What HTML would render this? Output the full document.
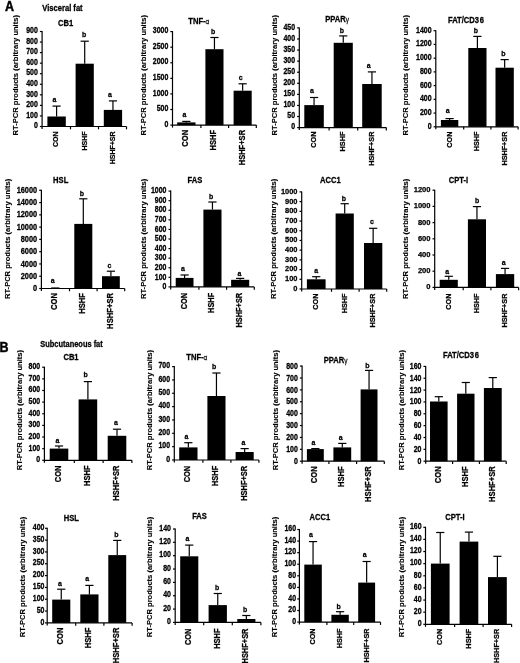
<!DOCTYPE html>
<html><head><meta charset="utf-8"><style>
html,body{margin:0;padding:0;background:#fff;}
svg{display:block;will-change:transform;}
line{stroke:#000;stroke-width:1.2;}
rect{fill:#000;}
text{font-family:"Liberation Sans", sans-serif;font-weight:bold;fill:#000;stroke:#000;stroke-width:0.25;}
.t{font-size:7.0px;text-anchor:end;}
.x{font-size:7.0px;text-anchor:end;}
.ti{font-size:7.6px;text-anchor:middle;}
.yl{font-size:7.55px;text-anchor:middle;stroke-width:0.12;}
.l{font-size:7.0px;text-anchor:middle;}
.st{text-anchor:start;}
.gk{font-weight:normal;font-size:6.5px;fill:#333;}
.big{font-size:12.5px;stroke:#000;stroke-width:0.4;}
.sec{font-size:7.6px;}
.s2{font-size:7.45px;}
</style></head><body>
<svg width="520" height="663" viewBox="0 0 520 663">
<text class="big" transform="translate(5,10.8) scale(1,1.15)">A</text>
<text class="sec" transform="translate(42.3,10.7) scale(1,1.2)">Visceral fat</text>
<text class="big" transform="translate(-0.6,351.9) scale(1,1.15)">B</text>
<text class="sec s2" transform="translate(40.3,347) scale(1,1.2)">Subcutaneous fat</text>
<line x1="42.1" y1="31" x2="42.1" y2="129"/>
<line x1="39.9" y1="126.5" x2="42.1" y2="126.5"/>
<text class="t" style="font-size:7px" transform="translate(37.9,128.2) scale(1,1.2)">0</text>
<line x1="39.9" y1="115.94" x2="42.1" y2="115.94"/>
<text class="t" style="font-size:7px" transform="translate(37.9,117.64) scale(1,1.2)">100</text>
<line x1="39.9" y1="105.39" x2="42.1" y2="105.39"/>
<text class="t" style="font-size:7px" transform="translate(37.9,107.09) scale(1,1.2)">200</text>
<line x1="39.9" y1="94.83" x2="42.1" y2="94.83"/>
<text class="t" style="font-size:7px" transform="translate(37.9,96.53) scale(1,1.2)">300</text>
<line x1="39.9" y1="84.28" x2="42.1" y2="84.28"/>
<text class="t" style="font-size:7px" transform="translate(37.9,85.98) scale(1,1.2)">400</text>
<line x1="39.9" y1="73.72" x2="42.1" y2="73.72"/>
<text class="t" style="font-size:7px" transform="translate(37.9,75.42) scale(1,1.2)">500</text>
<line x1="39.9" y1="63.17" x2="42.1" y2="63.17"/>
<text class="t" style="font-size:7px" transform="translate(37.9,64.87) scale(1,1.2)">600</text>
<line x1="39.9" y1="52.61" x2="42.1" y2="52.61"/>
<text class="t" style="font-size:7px" transform="translate(37.9,54.31) scale(1,1.2)">700</text>
<line x1="39.9" y1="42.06" x2="42.1" y2="42.06"/>
<text class="t" style="font-size:7px" transform="translate(37.9,43.76) scale(1,1.2)">800</text>
<line x1="39.9" y1="31.5" x2="42.1" y2="31.5"/>
<text class="t" style="font-size:7px" transform="translate(37.9,33.2) scale(1,1.2)">900</text>
<line x1="42.1" y1="126.5" x2="126.5" y2="126.5"/>
<line x1="70.5" y1="126.5" x2="70.5" y2="129.3"/>
<line x1="98.5" y1="126.5" x2="98.5" y2="129.3"/>
<line x1="126.5" y1="126.5" x2="126.5" y2="129.3"/>
<rect x="47.4" y="116.5" width="18.4" height="10"/>
<line x1="56.6" y1="116.5" x2="56.6" y2="106.1"/>
<line x1="52.5" y1="106.1" x2="60.7" y2="106.1"/>
<text class="l" transform="translate(54.4,101.5) scale(1,1.1)">a</text>
<text class="x" style="font-size:7px" transform="translate(58.41,131.5) rotate(-90) scale(1,1.1)">CON</text>
<rect x="75.6" y="63.7" width="18.2" height="62.8"/>
<line x1="84.7" y1="63.7" x2="84.7" y2="41.2"/>
<line x1="80.6" y1="41.2" x2="88.8" y2="41.2"/>
<text class="l" transform="translate(84.1,37.4) scale(1,1.1)">b</text>
<text class="x" style="font-size:7px" transform="translate(86.51,131.5) rotate(-90) scale(1,1.1)">HSHF</text>
<rect x="103.8" y="109.9" width="18.3" height="16.6"/>
<line x1="112.95" y1="109.9" x2="112.95" y2="100.9"/>
<line x1="108.85" y1="100.9" x2="117.05" y2="100.9"/>
<text class="l" transform="translate(110,96.9) scale(1,1.1)">a</text>
<text class="x" style="font-size:7px" transform="translate(114.76,131.5) rotate(-90) scale(1,1.1)">HSHF+SR</text>
<text class="ti" transform="translate(65.7,25.5) scale(1,1.2)">CB1</text>
<text class="yl" transform="translate(17.6,75.25) rotate(-90) scale(1,1)">RT-PCR products (arbitrary units)</text>
<line x1="172.5" y1="31.1" x2="172.5" y2="127.6"/>
<line x1="170.3" y1="125.1" x2="172.5" y2="125.1"/>
<text class="t" style="font-size:7px" transform="translate(168.3,126.8) scale(1,1.2)">0</text>
<line x1="170.3" y1="109.52" x2="172.5" y2="109.52"/>
<text class="t" style="font-size:7px" transform="translate(168.3,111.22) scale(1,1.2)">500</text>
<line x1="170.3" y1="93.93" x2="172.5" y2="93.93"/>
<text class="t" style="font-size:7px" transform="translate(168.3,95.63) scale(1,1.2)">1000</text>
<line x1="170.3" y1="78.35" x2="172.5" y2="78.35"/>
<text class="t" style="font-size:7px" transform="translate(168.3,80.05) scale(1,1.2)">1500</text>
<line x1="170.3" y1="62.77" x2="172.5" y2="62.77"/>
<text class="t" style="font-size:7px" transform="translate(168.3,64.47) scale(1,1.2)">2000</text>
<line x1="170.3" y1="47.18" x2="172.5" y2="47.18"/>
<text class="t" style="font-size:7px" transform="translate(168.3,48.88) scale(1,1.2)">2500</text>
<line x1="170.3" y1="31.6" x2="172.5" y2="31.6"/>
<text class="t" style="font-size:7px" transform="translate(168.3,33.3) scale(1,1.2)">3000</text>
<line x1="172.5" y1="125.1" x2="256.3" y2="125.1"/>
<line x1="200.9" y1="125.1" x2="200.9" y2="127.9"/>
<line x1="228.6" y1="125.1" x2="228.6" y2="127.9"/>
<line x1="256.3" y1="125.1" x2="256.3" y2="127.9"/>
<rect x="177.2" y="122.4" width="18.3" height="2.7"/>
<line x1="186.35" y1="122.4" x2="186.35" y2="121.4"/>
<line x1="182.25" y1="121.4" x2="190.45" y2="121.4"/>
<text class="l" transform="translate(184.5,116.7) scale(1,1.1)">a</text>
<text class="x" style="font-size:7.55px" transform="translate(188.38,129.9) rotate(-90) scale(1,1.1)">CON</text>
<rect x="205.4" y="49.2" width="18.1" height="75.9"/>
<line x1="214.45" y1="49.2" x2="214.45" y2="37.5"/>
<line x1="210.35" y1="37.5" x2="218.55" y2="37.5"/>
<text class="l" transform="translate(213.2,34) scale(1,1.1)">b</text>
<text class="x" style="font-size:7.55px" transform="translate(216.48,129.9) rotate(-90) scale(1,1.1)">HSHF</text>
<rect x="233.6" y="90.7" width="18.1" height="34.4"/>
<line x1="242.65" y1="90.7" x2="242.65" y2="83.8"/>
<line x1="238.55" y1="83.8" x2="246.75" y2="83.8"/>
<text class="l" transform="translate(240.8,80.1) scale(1,1.1)">c</text>
<text class="x" style="font-size:7.55px" transform="translate(244.68,129.9) rotate(-90) scale(1,1.1)">HSHF+SR</text>
<text class="ti st" transform="translate(188.3,23.5) scale(1,1.2)">TNF-<tspan class="gk">α</tspan></text>
<text class="yl" transform="translate(145.5,75.25) rotate(-90) scale(1,1)">RT-PCR products (arbitrary units)</text>
<line x1="299.3" y1="27.4" x2="299.3" y2="130.1"/>
<line x1="297.1" y1="127.6" x2="299.3" y2="127.6"/>
<text class="t" style="font-size:7px" transform="translate(295.1,129.3) scale(1,1.2)">0</text>
<line x1="297.1" y1="116.52" x2="299.3" y2="116.52"/>
<text class="t" style="font-size:7px" transform="translate(295.1,118.22) scale(1,1.2)">50</text>
<line x1="297.1" y1="105.44" x2="299.3" y2="105.44"/>
<text class="t" style="font-size:7px" transform="translate(295.1,107.14) scale(1,1.2)">100</text>
<line x1="297.1" y1="94.37" x2="299.3" y2="94.37"/>
<text class="t" style="font-size:7px" transform="translate(295.1,96.07) scale(1,1.2)">150</text>
<line x1="297.1" y1="83.29" x2="299.3" y2="83.29"/>
<text class="t" style="font-size:7px" transform="translate(295.1,84.99) scale(1,1.2)">200</text>
<line x1="297.1" y1="72.21" x2="299.3" y2="72.21"/>
<text class="t" style="font-size:7px" transform="translate(295.1,73.91) scale(1,1.2)">250</text>
<line x1="297.1" y1="61.13" x2="299.3" y2="61.13"/>
<text class="t" style="font-size:7px" transform="translate(295.1,62.83) scale(1,1.2)">300</text>
<line x1="297.1" y1="50.06" x2="299.3" y2="50.06"/>
<text class="t" style="font-size:7px" transform="translate(295.1,51.76) scale(1,1.2)">350</text>
<line x1="297.1" y1="38.98" x2="299.3" y2="38.98"/>
<text class="t" style="font-size:7px" transform="translate(295.1,40.68) scale(1,1.2)">400</text>
<line x1="297.1" y1="27.9" x2="299.3" y2="27.9"/>
<text class="t" style="font-size:7px" transform="translate(295.1,29.6) scale(1,1.2)">450</text>
<line x1="299.3" y1="127.6" x2="386.3" y2="127.6"/>
<line x1="329.1" y1="127.6" x2="329.1" y2="130.4"/>
<line x1="357.7" y1="127.6" x2="357.7" y2="130.4"/>
<line x1="386.3" y1="127.6" x2="386.3" y2="130.4"/>
<rect x="304.3" y="105.1" width="19.5" height="22.5"/>
<line x1="314.05" y1="105.1" x2="314.05" y2="97.5"/>
<line x1="309.95" y1="97.5" x2="318.15" y2="97.5"/>
<text class="l" transform="translate(312,93.3) scale(1,1.1)">a</text>
<text class="x" style="font-size:7.3px" transform="translate(315.98,131.6) rotate(-90) scale(1,1.1)">CON</text>
<rect x="333.7" y="42.8" width="19.1" height="84.8"/>
<line x1="343.25" y1="42.8" x2="343.25" y2="35.9"/>
<line x1="339.15" y1="35.9" x2="347.35" y2="35.9"/>
<text class="l" transform="translate(341.8,33.3) scale(1,1.1)">b</text>
<text class="x" style="font-size:7.3px" transform="translate(345.18,131.6) rotate(-90) scale(1,1.1)">HSHF</text>
<rect x="362.2" y="84" width="19.5" height="43.6"/>
<line x1="371.95" y1="84" x2="371.95" y2="71.9"/>
<line x1="367.85" y1="71.9" x2="376.05" y2="71.9"/>
<text class="l" transform="translate(368.7,67.6) scale(1,1.1)">a</text>
<text class="x" style="font-size:7.3px" transform="translate(373.88,131.6) rotate(-90) scale(1,1.1)">HSHF+SR</text>
<text class="ti st" transform="translate(325.2,22.3) scale(1,1.2)">PPAR<tspan class="gk">γ</tspan></text>
<text class="yl" transform="translate(276.6,75.25) rotate(-90) scale(1,1)">RT-PCR products (arbitrary units)</text>
<line x1="435.8" y1="30.2" x2="435.8" y2="129.3"/>
<line x1="433.6" y1="126.8" x2="435.8" y2="126.8"/>
<text class="t" style="font-size:7px" transform="translate(431.6,128.8) scale(1,1.2)">0</text>
<line x1="433.6" y1="113.07" x2="435.8" y2="113.07"/>
<text class="t" style="font-size:7px" transform="translate(431.6,115.07) scale(1,1.2)">200</text>
<line x1="433.6" y1="99.34" x2="435.8" y2="99.34"/>
<text class="t" style="font-size:7px" transform="translate(431.6,101.34) scale(1,1.2)">400</text>
<line x1="433.6" y1="85.61" x2="435.8" y2="85.61"/>
<text class="t" style="font-size:7px" transform="translate(431.6,87.61) scale(1,1.2)">600</text>
<line x1="433.6" y1="71.89" x2="435.8" y2="71.89"/>
<text class="t" style="font-size:7px" transform="translate(431.6,73.89) scale(1,1.2)">800</text>
<line x1="433.6" y1="58.16" x2="435.8" y2="58.16"/>
<text class="t" style="font-size:7px" transform="translate(431.6,60.16) scale(1,1.2)">1000</text>
<line x1="433.6" y1="44.43" x2="435.8" y2="44.43"/>
<text class="t" style="font-size:7px" transform="translate(431.6,46.43) scale(1,1.2)">1200</text>
<line x1="433.6" y1="30.7" x2="435.8" y2="30.7"/>
<text class="t" style="font-size:7px" transform="translate(431.6,32.7) scale(1,1.2)">1400</text>
<line x1="435.8" y1="126.8" x2="518.1" y2="126.8"/>
<line x1="463.7" y1="126.8" x2="463.7" y2="129.6"/>
<line x1="490.9" y1="126.8" x2="490.9" y2="129.6"/>
<line x1="518.1" y1="126.8" x2="518.1" y2="129.6"/>
<rect x="440.9" y="120" width="17.4" height="6.8"/>
<line x1="449.6" y1="120" x2="449.6" y2="118.6"/>
<line x1="445.5" y1="118.6" x2="453.7" y2="118.6"/>
<text class="l" transform="translate(447.6,112.8) scale(1,1.1)">a</text>
<text class="x" style="font-size:7.25px" transform="translate(451.51,131.6) rotate(-90) scale(1,1.1)">CON</text>
<rect x="468.3" y="48" width="18.2" height="78.8"/>
<line x1="477.4" y1="48" x2="477.4" y2="36.4"/>
<line x1="473.3" y1="36.4" x2="481.5" y2="36.4"/>
<text class="l" transform="translate(475.8,33.3) scale(1,1.1)">b</text>
<text class="x" style="font-size:7.25px" transform="translate(479.31,131.6) rotate(-90) scale(1,1.1)">HSHF</text>
<rect x="495.5" y="67.7" width="18.3" height="59.1"/>
<line x1="504.65" y1="67.7" x2="504.65" y2="59.6"/>
<line x1="500.55" y1="59.6" x2="508.75" y2="59.6"/>
<text class="l" transform="translate(503.5,55.6) scale(1,1.1)">b</text>
<text class="x" style="font-size:7.25px" transform="translate(506.56,131.6) rotate(-90) scale(1,1.1)">HSHF+SR</text>
<text class="ti" transform="translate(466,22.8) scale(1,1.2)">FAT/CD3<tspan dx="0.9">6</tspan></text>
<text class="yl" transform="translate(407.5,75.25) rotate(-90) scale(1,1)">RT-PCR products (arbitrary units)</text>
<line x1="41.4" y1="189.8" x2="41.4" y2="291"/>
<line x1="39.2" y1="288.5" x2="41.4" y2="288.5"/>
<text class="t" style="font-size:7.4px" transform="translate(37.2,291.1) scale(1,1.1)">0</text>
<line x1="39.2" y1="276.23" x2="41.4" y2="276.23"/>
<text class="t" style="font-size:7.4px" transform="translate(37.2,278.83) scale(1,1.1)">2000</text>
<line x1="39.2" y1="263.95" x2="41.4" y2="263.95"/>
<text class="t" style="font-size:7.4px" transform="translate(37.2,266.55) scale(1,1.1)">4000</text>
<line x1="39.2" y1="251.68" x2="41.4" y2="251.68"/>
<text class="t" style="font-size:7.4px" transform="translate(37.2,254.28) scale(1,1.1)">6000</text>
<line x1="39.2" y1="239.4" x2="41.4" y2="239.4"/>
<text class="t" style="font-size:7.4px" transform="translate(37.2,242) scale(1,1.1)">8000</text>
<line x1="39.2" y1="227.12" x2="41.4" y2="227.12"/>
<text class="t" style="font-size:7.4px" transform="translate(37.2,229.72) scale(1,1.1)">10000</text>
<line x1="39.2" y1="214.85" x2="41.4" y2="214.85"/>
<text class="t" style="font-size:7.4px" transform="translate(37.2,217.45) scale(1,1.1)">12000</text>
<line x1="39.2" y1="202.58" x2="41.4" y2="202.58"/>
<text class="t" style="font-size:7.4px" transform="translate(37.2,205.18) scale(1,1.1)">14000</text>
<line x1="39.2" y1="190.3" x2="41.4" y2="190.3"/>
<text class="t" style="font-size:7.4px" transform="translate(37.2,192.9) scale(1,1.1)">16000</text>
<line x1="41.4" y1="288.5" x2="124.7" y2="288.5"/>
<line x1="69.5" y1="288.5" x2="69.5" y2="291.3"/>
<line x1="97.1" y1="288.5" x2="97.1" y2="291.3"/>
<line x1="124.7" y1="288.5" x2="124.7" y2="291.3"/>
<rect x="46.1" y="288.3" width="18.4" height="0.2"/>
<line x1="51.2" y1="288" x2="59.4" y2="288"/>
<text class="l" transform="translate(52.8,282.5) scale(1,1.1)">a</text>
<text class="x" style="font-size:7.65px" transform="translate(57.37,293) rotate(-90) scale(1,1.1)">CON</text>
<rect x="74.3" y="223.9" width="18" height="64.6"/>
<line x1="83.3" y1="223.9" x2="83.3" y2="198.8"/>
<line x1="79.2" y1="198.8" x2="87.4" y2="198.8"/>
<text class="l" transform="translate(81.8,196) scale(1,1.1)">b</text>
<text class="x" style="font-size:7.65px" transform="translate(85.37,293) rotate(-90) scale(1,1.1)">HSHF</text>
<rect x="102" y="276.2" width="17.8" height="12.3"/>
<line x1="110.9" y1="276.2" x2="110.9" y2="271.2"/>
<line x1="106.8" y1="271.2" x2="115" y2="271.2"/>
<text class="l" transform="translate(109.4,268) scale(1,1.1)">c</text>
<text class="x" style="font-size:7.65px" transform="translate(112.97,293) rotate(-90) scale(1,1.1)">HSHF+SR</text>
<text class="ti" transform="translate(60.7,182.8) scale(1,1.2)">HSL</text>
<text class="yl" transform="translate(9.5,238.85) rotate(-90) scale(1,1)">RT-PCR products (arbitrary units)</text>
<line x1="170.7" y1="190.6" x2="170.7" y2="289.4"/>
<line x1="168.5" y1="286.9" x2="170.7" y2="286.9"/>
<text class="t" style="font-size:7px" transform="translate(166.5,289.1) scale(1,1.2)">0</text>
<line x1="168.5" y1="277.32" x2="170.7" y2="277.32"/>
<text class="t" style="font-size:7px" transform="translate(166.5,279.52) scale(1,1.2)">100</text>
<line x1="168.5" y1="267.74" x2="170.7" y2="267.74"/>
<text class="t" style="font-size:7px" transform="translate(166.5,269.94) scale(1,1.2)">200</text>
<line x1="168.5" y1="258.16" x2="170.7" y2="258.16"/>
<text class="t" style="font-size:7px" transform="translate(166.5,260.36) scale(1,1.2)">300</text>
<line x1="168.5" y1="248.58" x2="170.7" y2="248.58"/>
<text class="t" style="font-size:7px" transform="translate(166.5,250.78) scale(1,1.2)">400</text>
<line x1="168.5" y1="239" x2="170.7" y2="239"/>
<text class="t" style="font-size:7px" transform="translate(166.5,241.2) scale(1,1.2)">500</text>
<line x1="168.5" y1="229.42" x2="170.7" y2="229.42"/>
<text class="t" style="font-size:7px" transform="translate(166.5,231.62) scale(1,1.2)">600</text>
<line x1="168.5" y1="219.84" x2="170.7" y2="219.84"/>
<text class="t" style="font-size:7px" transform="translate(166.5,222.04) scale(1,1.2)">700</text>
<line x1="168.5" y1="210.26" x2="170.7" y2="210.26"/>
<text class="t" style="font-size:7px" transform="translate(166.5,212.46) scale(1,1.2)">800</text>
<line x1="168.5" y1="200.68" x2="170.7" y2="200.68"/>
<text class="t" style="font-size:7px" transform="translate(166.5,202.88) scale(1,1.2)">900</text>
<line x1="168.5" y1="191.1" x2="170.7" y2="191.1"/>
<text class="t" style="font-size:7px" transform="translate(166.5,193.3) scale(1,1.2)">1000</text>
<line x1="170.7" y1="286.9" x2="254.3" y2="286.9"/>
<line x1="198.9" y1="286.9" x2="198.9" y2="289.7"/>
<line x1="226.6" y1="286.9" x2="226.6" y2="289.7"/>
<line x1="254.3" y1="286.9" x2="254.3" y2="289.7"/>
<rect x="175.7" y="277.9" width="17.8" height="9"/>
<line x1="184.6" y1="277.9" x2="184.6" y2="275"/>
<line x1="180.5" y1="275" x2="188.7" y2="275"/>
<text class="l" transform="translate(183,271.3) scale(1,1.1)">a</text>
<text class="x" style="font-size:7.4px" transform="translate(186.57,292.8) rotate(-90) scale(1,1.1)">CON</text>
<rect x="203.4" y="209.6" width="18.1" height="77.3"/>
<line x1="212.45" y1="209.6" x2="212.45" y2="202"/>
<line x1="208.35" y1="202" x2="216.55" y2="202"/>
<text class="l" transform="translate(211.2,198.7) scale(1,1.1)">b</text>
<text class="x" style="font-size:7.4px" transform="translate(214.42,292.8) rotate(-90) scale(1,1.1)">HSHF</text>
<rect x="231.1" y="279.8" width="18.1" height="7.1"/>
<line x1="240.15" y1="279.8" x2="240.15" y2="278.4"/>
<line x1="236.05" y1="278.4" x2="244.25" y2="278.4"/>
<text class="l" transform="translate(239.5,275.6) scale(1,1.1)">a</text>
<text class="x" style="font-size:7.4px" transform="translate(242.12,292.8) rotate(-90) scale(1,1.1)">HSHF+SR</text>
<text class="ti" transform="translate(194.85,182.8) scale(1,1.2)">FAS</text>
<text class="yl" transform="translate(146,238.85) rotate(-90) scale(1,1)">RT-PCR products (arbitrary units)</text>
<line x1="301.7" y1="191.4" x2="301.7" y2="291.5"/>
<line x1="299.5" y1="289" x2="301.7" y2="289"/>
<text class="t" style="font-size:7.45px" transform="translate(297.5,290.9) scale(1,1.05)">0</text>
<line x1="299.5" y1="279.29" x2="301.7" y2="279.29"/>
<text class="t" style="font-size:7.45px" transform="translate(297.5,281.19) scale(1,1.05)">100</text>
<line x1="299.5" y1="269.58" x2="301.7" y2="269.58"/>
<text class="t" style="font-size:7.45px" transform="translate(297.5,271.48) scale(1,1.05)">200</text>
<line x1="299.5" y1="259.87" x2="301.7" y2="259.87"/>
<text class="t" style="font-size:7.45px" transform="translate(297.5,261.77) scale(1,1.05)">300</text>
<line x1="299.5" y1="250.16" x2="301.7" y2="250.16"/>
<text class="t" style="font-size:7.45px" transform="translate(297.5,252.06) scale(1,1.05)">400</text>
<line x1="299.5" y1="240.45" x2="301.7" y2="240.45"/>
<text class="t" style="font-size:7.45px" transform="translate(297.5,242.35) scale(1,1.05)">500</text>
<line x1="299.5" y1="230.74" x2="301.7" y2="230.74"/>
<text class="t" style="font-size:7.45px" transform="translate(297.5,232.64) scale(1,1.05)">600</text>
<line x1="299.5" y1="221.03" x2="301.7" y2="221.03"/>
<text class="t" style="font-size:7.45px" transform="translate(297.5,222.93) scale(1,1.05)">700</text>
<line x1="299.5" y1="211.32" x2="301.7" y2="211.32"/>
<text class="t" style="font-size:7.45px" transform="translate(297.5,213.22) scale(1,1.05)">800</text>
<line x1="299.5" y1="201.61" x2="301.7" y2="201.61"/>
<text class="t" style="font-size:7.45px" transform="translate(297.5,203.51) scale(1,1.05)">900</text>
<line x1="299.5" y1="191.9" x2="301.7" y2="191.9"/>
<text class="t" style="font-size:7.45px" transform="translate(297.5,193.8) scale(1,1.05)">1000</text>
<line x1="301.7" y1="289" x2="386.7" y2="289"/>
<line x1="331.5" y1="289" x2="331.5" y2="291.8"/>
<line x1="359.1" y1="289" x2="359.1" y2="291.8"/>
<line x1="386.7" y1="289" x2="386.7" y2="291.8"/>
<rect x="306.9" y="279.3" width="18.7" height="9.7"/>
<line x1="316.25" y1="279.3" x2="316.25" y2="276.7"/>
<line x1="312.15" y1="276.7" x2="320.35" y2="276.7"/>
<text class="l" transform="translate(316.1,272.9) scale(1,1.1)">a</text>
<text class="x" style="font-size:7.25px" transform="translate(318.16,293.6) rotate(-90) scale(1,1.1)">CON</text>
<rect x="335.6" y="213.5" width="18.2" height="75.5"/>
<line x1="344.7" y1="213.5" x2="344.7" y2="203.7"/>
<line x1="340.6" y1="203.7" x2="348.8" y2="203.7"/>
<text class="l" transform="translate(343.8,200.9) scale(1,1.1)">b</text>
<text class="x" style="font-size:7.25px" transform="translate(346.61,293.6) rotate(-90) scale(1,1.1)">HSHF</text>
<rect x="364" y="243" width="18.3" height="46"/>
<line x1="373.15" y1="243" x2="373.15" y2="228.3"/>
<line x1="369.05" y1="228.3" x2="377.25" y2="228.3"/>
<text class="l" transform="translate(371.9,224.4) scale(1,1.1)">c</text>
<text class="x" style="font-size:7.25px" transform="translate(375.06,293.6) rotate(-90) scale(1,1.1)">HSHF+SR</text>
<text class="ti" transform="translate(330.3,183.4) scale(1,1.2)">ACC1</text>
<text class="yl" transform="translate(276,238.85) rotate(-90) scale(1,1)">RT-PCR products (arbitrary units)</text>
<line x1="434.7" y1="189.7" x2="434.7" y2="289.9"/>
<line x1="432.5" y1="287.4" x2="434.7" y2="287.4"/>
<text class="t" style="font-size:7.55px" transform="translate(430.5,289.4) scale(1,1)">0</text>
<line x1="432.5" y1="271.2" x2="434.7" y2="271.2"/>
<text class="t" style="font-size:7.55px" transform="translate(430.5,273.2) scale(1,1)">200</text>
<line x1="432.5" y1="255" x2="434.7" y2="255"/>
<text class="t" style="font-size:7.55px" transform="translate(430.5,257) scale(1,1)">400</text>
<line x1="432.5" y1="238.8" x2="434.7" y2="238.8"/>
<text class="t" style="font-size:7.55px" transform="translate(430.5,240.8) scale(1,1)">600</text>
<line x1="432.5" y1="222.6" x2="434.7" y2="222.6"/>
<text class="t" style="font-size:7.55px" transform="translate(430.5,224.6) scale(1,1)">800</text>
<line x1="432.5" y1="206.4" x2="434.7" y2="206.4"/>
<text class="t" style="font-size:7.55px" transform="translate(430.5,208.4) scale(1,1)">1000</text>
<line x1="432.5" y1="190.2" x2="434.7" y2="190.2"/>
<text class="t" style="font-size:7.55px" transform="translate(430.5,192.2) scale(1,1)">1200</text>
<line x1="434.7" y1="287.4" x2="518.6" y2="287.4"/>
<line x1="463.2" y1="287.4" x2="463.2" y2="290.2"/>
<line x1="490.9" y1="287.4" x2="490.9" y2="290.2"/>
<line x1="518.6" y1="287.4" x2="518.6" y2="290.2"/>
<rect x="439.7" y="279.8" width="18.1" height="7.6"/>
<line x1="448.75" y1="279.8" x2="448.75" y2="276.3"/>
<line x1="444.65" y1="276.3" x2="452.85" y2="276.3"/>
<text class="l" transform="translate(447.2,273.6) scale(1,1.1)">a</text>
<text class="x" style="font-size:7.25px" transform="translate(450.66,293.6) rotate(-90) scale(1,1.1)">CON</text>
<rect x="467.9" y="219.3" width="18.1" height="68.1"/>
<line x1="476.95" y1="219.3" x2="476.95" y2="206.6"/>
<line x1="472.85" y1="206.6" x2="481.05" y2="206.6"/>
<text class="l" transform="translate(477.2,202.9) scale(1,1.1)">b</text>
<text class="x" style="font-size:7.25px" transform="translate(478.86,293.6) rotate(-90) scale(1,1.1)">HSHF</text>
<rect x="495.9" y="274.1" width="18.3" height="13.3"/>
<line x1="505.05" y1="274.1" x2="505.05" y2="268.4"/>
<line x1="500.95" y1="268.4" x2="509.15" y2="268.4"/>
<text class="l" transform="translate(503.7,265.2) scale(1,1.1)">a</text>
<text class="x" style="font-size:7.25px" transform="translate(506.96,293.6) rotate(-90) scale(1,1.1)">HSHF+SR</text>
<text class="ti" transform="translate(458.5,182.8) scale(1,1.2)">CPT-I</text>
<text class="yl" transform="translate(407.8,238.85) rotate(-90) scale(1,1)">RT-PCR products (arbitrary units)</text>
<line x1="44.4" y1="366.7" x2="44.4" y2="462.8"/>
<line x1="42.2" y1="460.3" x2="44.4" y2="460.3"/>
<text class="t" style="font-size:7px" transform="translate(40.2,462.3) scale(1,1.2)">0</text>
<line x1="42.2" y1="448.66" x2="44.4" y2="448.66"/>
<text class="t" style="font-size:7px" transform="translate(40.2,450.66) scale(1,1.2)">100</text>
<line x1="42.2" y1="437.02" x2="44.4" y2="437.02"/>
<text class="t" style="font-size:7px" transform="translate(40.2,439.02) scale(1,1.2)">200</text>
<line x1="42.2" y1="425.39" x2="44.4" y2="425.39"/>
<text class="t" style="font-size:7px" transform="translate(40.2,427.39) scale(1,1.2)">300</text>
<line x1="42.2" y1="413.75" x2="44.4" y2="413.75"/>
<text class="t" style="font-size:7px" transform="translate(40.2,415.75) scale(1,1.2)">400</text>
<line x1="42.2" y1="402.11" x2="44.4" y2="402.11"/>
<text class="t" style="font-size:7px" transform="translate(40.2,404.11) scale(1,1.2)">500</text>
<line x1="42.2" y1="390.48" x2="44.4" y2="390.48"/>
<text class="t" style="font-size:7px" transform="translate(40.2,392.48) scale(1,1.2)">600</text>
<line x1="42.2" y1="378.84" x2="44.4" y2="378.84"/>
<text class="t" style="font-size:7px" transform="translate(40.2,380.84) scale(1,1.2)">700</text>
<line x1="42.2" y1="367.2" x2="44.4" y2="367.2"/>
<text class="t" style="font-size:7px" transform="translate(40.2,369.2) scale(1,1.2)">800</text>
<line x1="44.4" y1="460.3" x2="131.9" y2="460.3"/>
<line x1="74.3" y1="460.3" x2="74.3" y2="463.1"/>
<line x1="103.1" y1="460.3" x2="103.1" y2="463.1"/>
<line x1="131.9" y1="460.3" x2="131.9" y2="463.1"/>
<rect x="49.7" y="448.6" width="18.6" height="11.7"/>
<line x1="59" y1="448.6" x2="59" y2="446"/>
<line x1="54.9" y1="446" x2="63.1" y2="446"/>
<text class="l" transform="translate(57.4,442.5) scale(1,1.1)">a</text>
<text class="x" style="font-size:7.5px" transform="translate(61.01,465.5) rotate(-90) scale(1,1.1)">CON</text>
<rect x="78.6" y="399.4" width="18.6" height="60.9"/>
<line x1="87.9" y1="399.4" x2="87.9" y2="381.6"/>
<line x1="83.8" y1="381.6" x2="92" y2="381.6"/>
<text class="l" transform="translate(85.7,377.1) scale(1,1.1)">b</text>
<text class="x" style="font-size:7.5px" transform="translate(89.91,465.5) rotate(-90) scale(1,1.1)">HSHF</text>
<rect x="107.7" y="435.8" width="18.6" height="24.5"/>
<line x1="117" y1="435.8" x2="117" y2="429.2"/>
<line x1="112.9" y1="429.2" x2="121.1" y2="429.2"/>
<text class="l" transform="translate(116,425.1) scale(1,1.1)">a</text>
<text class="x" style="font-size:7.5px" transform="translate(119.01,465.5) rotate(-90) scale(1,1.1)">HSHF+SR</text>
<text class="ti" transform="translate(71,360.1) scale(1,1.2)">CB1</text>
<text class="yl" transform="translate(22.3,410.15) rotate(-90) scale(1,1)">RT-PCR products (arbitrary units)</text>
<line x1="174.3" y1="366.1" x2="174.3" y2="462.5"/>
<line x1="172.1" y1="460" x2="174.3" y2="460"/>
<text class="t" style="font-size:7px" transform="translate(170.1,461.7) scale(1,1.2)">0</text>
<line x1="172.1" y1="446.66" x2="174.3" y2="446.66"/>
<text class="t" style="font-size:7px" transform="translate(170.1,448.36) scale(1,1.2)">100</text>
<line x1="172.1" y1="433.31" x2="174.3" y2="433.31"/>
<text class="t" style="font-size:7px" transform="translate(170.1,435.01) scale(1,1.2)">200</text>
<line x1="172.1" y1="419.97" x2="174.3" y2="419.97"/>
<text class="t" style="font-size:7px" transform="translate(170.1,421.67) scale(1,1.2)">300</text>
<line x1="172.1" y1="406.63" x2="174.3" y2="406.63"/>
<text class="t" style="font-size:7px" transform="translate(170.1,408.33) scale(1,1.2)">400</text>
<line x1="172.1" y1="393.29" x2="174.3" y2="393.29"/>
<text class="t" style="font-size:7px" transform="translate(170.1,394.99) scale(1,1.2)">500</text>
<line x1="172.1" y1="379.94" x2="174.3" y2="379.94"/>
<text class="t" style="font-size:7px" transform="translate(170.1,381.64) scale(1,1.2)">600</text>
<line x1="172.1" y1="366.6" x2="174.3" y2="366.6"/>
<text class="t" style="font-size:7px" transform="translate(170.1,368.3) scale(1,1.2)">700</text>
<line x1="174.3" y1="460" x2="258.9" y2="460"/>
<line x1="202.9" y1="460" x2="202.9" y2="462.8"/>
<line x1="230.9" y1="460" x2="230.9" y2="462.8"/>
<line x1="258.9" y1="460" x2="258.9" y2="462.8"/>
<rect x="179.2" y="447.4" width="18.3" height="12.6"/>
<line x1="188.35" y1="447.4" x2="188.35" y2="442.7"/>
<line x1="184.25" y1="442.7" x2="192.45" y2="442.7"/>
<text class="l" transform="translate(186.5,438.6) scale(1,1.1)">a</text>
<text class="x" style="font-size:7.45px" transform="translate(190.34,465.8) rotate(-90) scale(1,1.1)">CON</text>
<rect x="207.4" y="396" width="18.1" height="64"/>
<line x1="216.45" y1="396" x2="216.45" y2="373"/>
<line x1="212.35" y1="373" x2="220.55" y2="373"/>
<text class="l" transform="translate(214.2,369.3) scale(1,1.1)">b</text>
<text class="x" style="font-size:7.45px" transform="translate(218.44,465.8) rotate(-90) scale(1,1.1)">HSHF</text>
<rect x="235.6" y="452" width="18.1" height="8"/>
<line x1="244.65" y1="452" x2="244.65" y2="448.6"/>
<line x1="240.55" y1="448.6" x2="248.75" y2="448.6"/>
<text class="l" transform="translate(243.5,444.9) scale(1,1.1)">a</text>
<text class="x" style="font-size:7.45px" transform="translate(246.64,465.8) rotate(-90) scale(1,1.1)">HSHF+SR</text>
<text class="ti st" transform="translate(186.3,359.5) scale(1,1.2)">TNF-<tspan class="gk">α</tspan></text>
<text class="yl" transform="translate(152.2,410.15) rotate(-90) scale(1,1)">RT-PCR products (arbitrary units)</text>
<line x1="302.1" y1="365.6" x2="302.1" y2="463.7"/>
<line x1="299.9" y1="461.2" x2="302.1" y2="461.2"/>
<text class="t" style="font-size:7px" transform="translate(297.9,463.9) scale(1,1.2)">0</text>
<line x1="299.9" y1="449.31" x2="302.1" y2="449.31"/>
<text class="t" style="font-size:7px" transform="translate(297.9,452.01) scale(1,1.2)">100</text>
<line x1="299.9" y1="437.43" x2="302.1" y2="437.43"/>
<text class="t" style="font-size:7px" transform="translate(297.9,440.12) scale(1,1.2)">200</text>
<line x1="299.9" y1="425.54" x2="302.1" y2="425.54"/>
<text class="t" style="font-size:7px" transform="translate(297.9,428.24) scale(1,1.2)">300</text>
<line x1="299.9" y1="413.65" x2="302.1" y2="413.65"/>
<text class="t" style="font-size:7px" transform="translate(297.9,416.35) scale(1,1.2)">400</text>
<line x1="299.9" y1="401.76" x2="302.1" y2="401.76"/>
<text class="t" style="font-size:7px" transform="translate(297.9,404.46) scale(1,1.2)">500</text>
<line x1="299.9" y1="389.88" x2="302.1" y2="389.88"/>
<text class="t" style="font-size:7px" transform="translate(297.9,392.57) scale(1,1.2)">600</text>
<line x1="299.9" y1="377.99" x2="302.1" y2="377.99"/>
<text class="t" style="font-size:7px" transform="translate(297.9,380.69) scale(1,1.2)">700</text>
<line x1="299.9" y1="366.1" x2="302.1" y2="366.1"/>
<text class="t" style="font-size:7px" transform="translate(297.9,368.8) scale(1,1.2)">800</text>
<line x1="302.1" y1="461.2" x2="384.3" y2="461.2"/>
<line x1="328.9" y1="461.2" x2="328.9" y2="464"/>
<line x1="356.6" y1="461.2" x2="356.6" y2="464"/>
<line x1="384.3" y1="461.2" x2="384.3" y2="464"/>
<rect x="306.9" y="449.1" width="16.9" height="12.1"/>
<line x1="311.25" y1="448.6" x2="319.45" y2="448.6"/>
<text class="l" transform="translate(313.5,444.7) scale(1,1.1)">a</text>
<text class="x" style="font-size:7.6px" transform="translate(317.4,466.3) rotate(-90) scale(1,1.1)">CON</text>
<rect x="333.4" y="447.4" width="17.8" height="13.8"/>
<line x1="342.3" y1="447.4" x2="342.3" y2="443.4"/>
<line x1="338.2" y1="443.4" x2="346.4" y2="443.4"/>
<text class="l" transform="translate(340.7,439.5) scale(1,1.1)">a</text>
<text class="x" style="font-size:7.6px" transform="translate(344.35,466.3) rotate(-90) scale(1,1.1)">HSHF</text>
<rect x="360.6" y="389.4" width="16.9" height="71.8"/>
<line x1="369.05" y1="389.4" x2="369.05" y2="370.4"/>
<line x1="364.95" y1="370.4" x2="373.15" y2="370.4"/>
<text class="l" transform="translate(367.3,367.5) scale(1,1.1)">b</text>
<text class="x" style="font-size:7.6px" transform="translate(371.1,466.3) rotate(-90) scale(1,1.1)">HSHF+SR</text>
<text class="ti st" transform="translate(323.8,362.5) scale(1,1.2)">PPAR<tspan class="gk">γ</tspan></text>
<text class="yl" transform="translate(277.7,410.15) rotate(-90) scale(1,1)">RT-PCR products (arbitrary units)</text>
<line x1="425.7" y1="365.9" x2="425.7" y2="463.7"/>
<line x1="423.5" y1="461.2" x2="425.7" y2="461.2"/>
<text class="t" style="font-size:7px" transform="translate(421.5,463.7) scale(1,1.2)">0</text>
<line x1="423.5" y1="449.35" x2="425.7" y2="449.35"/>
<text class="t" style="font-size:7px" transform="translate(421.5,451.85) scale(1,1.2)">20</text>
<line x1="423.5" y1="437.5" x2="425.7" y2="437.5"/>
<text class="t" style="font-size:7px" transform="translate(421.5,440) scale(1,1.2)">40</text>
<line x1="423.5" y1="425.65" x2="425.7" y2="425.65"/>
<text class="t" style="font-size:7px" transform="translate(421.5,428.15) scale(1,1.2)">60</text>
<line x1="423.5" y1="413.8" x2="425.7" y2="413.8"/>
<text class="t" style="font-size:7px" transform="translate(421.5,416.3) scale(1,1.2)">80</text>
<line x1="423.5" y1="401.95" x2="425.7" y2="401.95"/>
<text class="t" style="font-size:7px" transform="translate(421.5,404.45) scale(1,1.2)">100</text>
<line x1="423.5" y1="390.1" x2="425.7" y2="390.1"/>
<text class="t" style="font-size:7px" transform="translate(421.5,392.6) scale(1,1.2)">120</text>
<line x1="423.5" y1="378.25" x2="425.7" y2="378.25"/>
<text class="t" style="font-size:7px" transform="translate(421.5,380.75) scale(1,1.2)">140</text>
<line x1="423.5" y1="366.4" x2="425.7" y2="366.4"/>
<text class="t" style="font-size:7px" transform="translate(421.5,368.9) scale(1,1.2)">160</text>
<line x1="425.7" y1="461.2" x2="506.2" y2="461.2"/>
<line x1="452.6" y1="461.2" x2="452.6" y2="464"/>
<line x1="479.4" y1="461.2" x2="479.4" y2="464"/>
<line x1="506.2" y1="461.2" x2="506.2" y2="464"/>
<rect x="430" y="401.5" width="17.6" height="59.7"/>
<line x1="438.8" y1="401.5" x2="438.8" y2="396.7"/>
<line x1="434.7" y1="396.7" x2="442.9" y2="396.7"/>
<text class="x" style="font-size:7.6px" transform="translate(440.85,466.3) rotate(-90) scale(1,1.1)">CON</text>
<rect x="457.1" y="393.7" width="17.4" height="67.5"/>
<line x1="465.8" y1="393.7" x2="465.8" y2="382.5"/>
<line x1="461.7" y1="382.5" x2="469.9" y2="382.5"/>
<text class="x" style="font-size:7.6px" transform="translate(467.85,466.3) rotate(-90) scale(1,1.1)">HSHF</text>
<rect x="483.9" y="388" width="17.8" height="73.2"/>
<line x1="492.8" y1="388" x2="492.8" y2="377.6"/>
<line x1="488.7" y1="377.6" x2="496.9" y2="377.6"/>
<text class="x" style="font-size:7.6px" transform="translate(494.85,466.3) rotate(-90) scale(1,1.1)">HSHF+SR</text>
<text class="ti" transform="translate(461,358.4) scale(1,1.2)">FAT/CD3<tspan dx="0.9">6</tspan></text>
<text class="yl" transform="translate(403.9,410.15) rotate(-90) scale(1,1)">RT-PCR products (arbitrary units)</text>
<line x1="47.2" y1="527.8" x2="47.2" y2="625.4"/>
<line x1="45" y1="622.9" x2="47.2" y2="622.9"/>
<text class="t" style="font-size:7px" transform="translate(44.5,624.6) scale(1,1.2)">0</text>
<line x1="45" y1="611.07" x2="47.2" y2="611.07"/>
<text class="t" style="font-size:7px" transform="translate(44.5,612.77) scale(1,1.2)">50</text>
<line x1="45" y1="599.25" x2="47.2" y2="599.25"/>
<text class="t" style="font-size:7px" transform="translate(44.5,600.95) scale(1,1.2)">100</text>
<line x1="45" y1="587.42" x2="47.2" y2="587.42"/>
<text class="t" style="font-size:7px" transform="translate(44.5,589.12) scale(1,1.2)">150</text>
<line x1="45" y1="575.6" x2="47.2" y2="575.6"/>
<text class="t" style="font-size:7px" transform="translate(44.5,577.3) scale(1,1.2)">200</text>
<line x1="45" y1="563.77" x2="47.2" y2="563.77"/>
<text class="t" style="font-size:7px" transform="translate(44.5,565.48) scale(1,1.2)">250</text>
<line x1="45" y1="551.95" x2="47.2" y2="551.95"/>
<text class="t" style="font-size:7px" transform="translate(44.5,553.65) scale(1,1.2)">300</text>
<line x1="45" y1="540.12" x2="47.2" y2="540.12"/>
<text class="t" style="font-size:7px" transform="translate(44.5,541.83) scale(1,1.2)">350</text>
<line x1="45" y1="528.3" x2="47.2" y2="528.3"/>
<text class="t" style="font-size:7px" transform="translate(44.5,530) scale(1,1.2)">400</text>
<line x1="47.2" y1="622.9" x2="132.1" y2="622.9"/>
<line x1="75.7" y1="622.9" x2="75.7" y2="625.7"/>
<line x1="103.9" y1="622.9" x2="103.9" y2="625.7"/>
<line x1="132.1" y1="622.9" x2="132.1" y2="625.7"/>
<rect x="52.2" y="599.6" width="18.1" height="23.3"/>
<line x1="61.25" y1="599.6" x2="61.25" y2="589.2"/>
<line x1="57.15" y1="589.2" x2="65.35" y2="589.2"/>
<text class="l" transform="translate(60,585.6) scale(1,1.1)">a</text>
<text class="x" style="font-size:7.6px" transform="translate(63.3,627.6) rotate(-90) scale(1,1.1)">CON</text>
<rect x="80.3" y="594.4" width="18.2" height="28.5"/>
<line x1="89.4" y1="594.4" x2="89.4" y2="585.4"/>
<line x1="85.3" y1="585.4" x2="93.5" y2="585.4"/>
<text class="l" transform="translate(87.3,581) scale(1,1.1)">a</text>
<text class="x" style="font-size:7.6px" transform="translate(91.45,627.6) rotate(-90) scale(1,1.1)">HSHF</text>
<rect x="108.3" y="555.1" width="17.9" height="67.8"/>
<line x1="117.25" y1="555.1" x2="117.25" y2="540.4"/>
<line x1="113.15" y1="540.4" x2="121.35" y2="540.4"/>
<text class="l" transform="translate(116.4,537.4) scale(1,1.1)">b</text>
<text class="x" style="font-size:7.6px" transform="translate(119.3,627.6) rotate(-90) scale(1,1.1)">HSHF+SR</text>
<text class="ti" transform="translate(71.35,520.5) scale(1,1.2)">HSL</text>
<text class="yl" transform="translate(24.6,577) rotate(-90) scale(1,1)">RT-PCR products (arbitrary units)</text>
<line x1="175.2" y1="528.5" x2="175.2" y2="624.9"/>
<line x1="173" y1="622.4" x2="175.2" y2="622.4"/>
<text class="t" style="font-size:7px" transform="translate(171,624.1) scale(1,1.2)">0</text>
<line x1="173" y1="609.06" x2="175.2" y2="609.06"/>
<text class="t" style="font-size:7px" transform="translate(171,610.76) scale(1,1.2)">20</text>
<line x1="173" y1="595.71" x2="175.2" y2="595.71"/>
<text class="t" style="font-size:7px" transform="translate(171,597.41) scale(1,1.2)">40</text>
<line x1="173" y1="582.37" x2="175.2" y2="582.37"/>
<text class="t" style="font-size:7px" transform="translate(171,584.07) scale(1,1.2)">60</text>
<line x1="173" y1="569.03" x2="175.2" y2="569.03"/>
<text class="t" style="font-size:7px" transform="translate(171,570.73) scale(1,1.2)">80</text>
<line x1="173" y1="555.69" x2="175.2" y2="555.69"/>
<text class="t" style="font-size:7px" transform="translate(171,557.39) scale(1,1.2)">100</text>
<line x1="173" y1="542.34" x2="175.2" y2="542.34"/>
<text class="t" style="font-size:7px" transform="translate(171,544.04) scale(1,1.2)">120</text>
<line x1="173" y1="529" x2="175.2" y2="529"/>
<text class="t" style="font-size:7px" transform="translate(171,530.7) scale(1,1.2)">140</text>
<line x1="175.2" y1="622.4" x2="260.9" y2="622.4"/>
<line x1="203.7" y1="622.4" x2="203.7" y2="625.2"/>
<line x1="232.3" y1="622.4" x2="232.3" y2="625.2"/>
<line x1="260.9" y1="622.4" x2="260.9" y2="625.2"/>
<rect x="180.2" y="556.3" width="18.1" height="66.1"/>
<line x1="189.25" y1="556.3" x2="189.25" y2="545.1"/>
<line x1="185.15" y1="545.1" x2="193.35" y2="545.1"/>
<text class="l" transform="translate(187.5,541.4) scale(1,1.1)">a</text>
<text class="x" style="font-size:7.45px" transform="translate(191.24,628.5) rotate(-90) scale(1,1.1)">CON</text>
<rect x="208.6" y="605.1" width="18.3" height="17.3"/>
<line x1="217.75" y1="605.1" x2="217.75" y2="593.5"/>
<line x1="213.65" y1="593.5" x2="221.85" y2="593.5"/>
<text class="l" transform="translate(217.1,589.7) scale(1,1.1)">b</text>
<text class="x" style="font-size:7.45px" transform="translate(219.74,628.5) rotate(-90) scale(1,1.1)">HSHF</text>
<rect x="237.3" y="619" width="18.1" height="3.4"/>
<line x1="246.35" y1="619" x2="246.35" y2="615.5"/>
<line x1="242.25" y1="615.5" x2="250.45" y2="615.5"/>
<text class="l" transform="translate(245.1,612.2) scale(1,1.1)">b</text>
<text class="x" style="font-size:7.45px" transform="translate(248.34,628.5) rotate(-90) scale(1,1.1)">HSHF+SR</text>
<text class="ti" transform="translate(199.5,518.5) scale(1,1.2)">FAS</text>
<text class="yl" transform="translate(151.7,577) rotate(-90) scale(1,1)">RT-PCR products (arbitrary units)</text>
<line x1="299.4" y1="529" x2="299.4" y2="624.6"/>
<line x1="297.2" y1="622.1" x2="299.4" y2="622.1"/>
<text class="t" style="font-size:7px" transform="translate(296.1,623.8) scale(1,1.2)">0</text>
<line x1="297.2" y1="610.52" x2="299.4" y2="610.52"/>
<text class="t" style="font-size:7px" transform="translate(296.1,612.23) scale(1,1.2)">20</text>
<line x1="297.2" y1="598.95" x2="299.4" y2="598.95"/>
<text class="t" style="font-size:7px" transform="translate(296.1,600.65) scale(1,1.2)">40</text>
<line x1="297.2" y1="587.38" x2="299.4" y2="587.38"/>
<text class="t" style="font-size:7px" transform="translate(296.1,589.08) scale(1,1.2)">60</text>
<line x1="297.2" y1="575.8" x2="299.4" y2="575.8"/>
<text class="t" style="font-size:7px" transform="translate(296.1,577.5) scale(1,1.2)">80</text>
<line x1="297.2" y1="564.23" x2="299.4" y2="564.23"/>
<text class="t" style="font-size:7px" transform="translate(296.1,565.93) scale(1,1.2)">100</text>
<line x1="297.2" y1="552.65" x2="299.4" y2="552.65"/>
<text class="t" style="font-size:7px" transform="translate(296.1,554.35) scale(1,1.2)">120</text>
<line x1="297.2" y1="541.08" x2="299.4" y2="541.08"/>
<text class="t" style="font-size:7px" transform="translate(296.1,542.78) scale(1,1.2)">140</text>
<line x1="297.2" y1="529.5" x2="299.4" y2="529.5"/>
<text class="t" style="font-size:7px" transform="translate(296.1,531.2) scale(1,1.2)">160</text>
<line x1="299.4" y1="622.1" x2="380.5" y2="622.1"/>
<line x1="326.9" y1="622.1" x2="326.9" y2="624.9"/>
<line x1="353.7" y1="622.1" x2="353.7" y2="624.9"/>
<line x1="380.5" y1="622.1" x2="380.5" y2="624.9"/>
<rect x="304.3" y="564.6" width="17.5" height="57.5"/>
<line x1="313.05" y1="564.6" x2="313.05" y2="541.6"/>
<line x1="308.95" y1="541.6" x2="317.15" y2="541.6"/>
<text class="l" transform="translate(311,537.4) scale(1,1.1)">a</text>
<text class="x" style="font-size:7.25px" transform="translate(314.96,628.5) rotate(-90) scale(1,1.1)">CON</text>
<rect x="331.4" y="614.8" width="17.4" height="7.3"/>
<line x1="340.1" y1="614.8" x2="340.1" y2="611.7"/>
<line x1="336" y1="611.7" x2="344.2" y2="611.7"/>
<text class="l" transform="translate(338.7,608.6) scale(1,1.1)">b</text>
<text class="x" style="font-size:7.25px" transform="translate(342.01,628.5) rotate(-90) scale(1,1.1)">HSHF</text>
<rect x="358.2" y="582.6" width="16.9" height="39.5"/>
<line x1="366.65" y1="582.6" x2="366.65" y2="561.5"/>
<line x1="362.55" y1="561.5" x2="370.75" y2="561.5"/>
<text class="l" transform="translate(364.7,556.8) scale(1,1.1)">a</text>
<text class="x" style="font-size:7.25px" transform="translate(368.56,628.5) rotate(-90) scale(1,1.1)">HSHF+SR</text>
<text class="ti" transform="translate(319.9,520) scale(1,1.2)">ACC1</text>
<text class="yl" transform="translate(276.6,577) rotate(-90) scale(1,1)">RT-PCR products (arbitrary units)</text>
<line x1="425.5" y1="526.8" x2="425.5" y2="626.8"/>
<line x1="423.3" y1="624.3" x2="425.5" y2="624.3"/>
<text class="t" style="font-size:7px" transform="translate(421.6,626) scale(1,1.2)">0</text>
<line x1="423.3" y1="612.17" x2="425.5" y2="612.17"/>
<text class="t" style="font-size:7px" transform="translate(421.6,613.88) scale(1,1.2)">20</text>
<line x1="423.3" y1="600.05" x2="425.5" y2="600.05"/>
<text class="t" style="font-size:7px" transform="translate(421.6,601.75) scale(1,1.2)">40</text>
<line x1="423.3" y1="587.92" x2="425.5" y2="587.92"/>
<text class="t" style="font-size:7px" transform="translate(421.6,589.62) scale(1,1.2)">60</text>
<line x1="423.3" y1="575.8" x2="425.5" y2="575.8"/>
<text class="t" style="font-size:7px" transform="translate(421.6,577.5) scale(1,1.2)">80</text>
<line x1="423.3" y1="563.67" x2="425.5" y2="563.67"/>
<text class="t" style="font-size:7px" transform="translate(421.6,565.38) scale(1,1.2)">100</text>
<line x1="423.3" y1="551.55" x2="425.5" y2="551.55"/>
<text class="t" style="font-size:7px" transform="translate(421.6,553.25) scale(1,1.2)">120</text>
<line x1="423.3" y1="539.42" x2="425.5" y2="539.42"/>
<text class="t" style="font-size:7px" transform="translate(421.6,541.12) scale(1,1.2)">140</text>
<line x1="423.3" y1="527.3" x2="425.5" y2="527.3"/>
<text class="t" style="font-size:7px" transform="translate(421.6,529) scale(1,1.2)">160</text>
<line x1="425.5" y1="624.3" x2="511.6" y2="624.3"/>
<line x1="454.6" y1="624.3" x2="454.6" y2="627.1"/>
<line x1="483.1" y1="624.3" x2="483.1" y2="627.1"/>
<line x1="511.6" y1="624.3" x2="511.6" y2="627.1"/>
<rect x="430.9" y="563.6" width="18.7" height="60.7"/>
<line x1="440.25" y1="563.6" x2="440.25" y2="532.5"/>
<line x1="436.15" y1="532.5" x2="444.35" y2="532.5"/>
<text class="x" style="font-size:7.3px" transform="translate(442.18,628.8) rotate(-90) scale(1,1.1)">CON</text>
<rect x="459.6" y="541.6" width="18.7" height="82.7"/>
<line x1="468.95" y1="541.6" x2="468.95" y2="532.1"/>
<line x1="464.85" y1="532.1" x2="473.05" y2="532.1"/>
<text class="x" style="font-size:7.3px" transform="translate(470.88,628.8) rotate(-90) scale(1,1.1)">HSHF</text>
<rect x="488" y="577.1" width="18.8" height="47.2"/>
<line x1="497.4" y1="577.1" x2="497.4" y2="556.3"/>
<line x1="493.3" y1="556.3" x2="501.5" y2="556.3"/>
<text class="x" style="font-size:7.3px" transform="translate(499.33,628.8) rotate(-90) scale(1,1.1)">HSHF+SR</text>
<text class="ti" transform="translate(454.9,520.4) scale(1,1.2)">CPT-I</text>
<text class="yl" transform="translate(404,577) rotate(-90) scale(1,1)">RT-PCR products (arbitrary units)</text>
</svg>
</body></html>
